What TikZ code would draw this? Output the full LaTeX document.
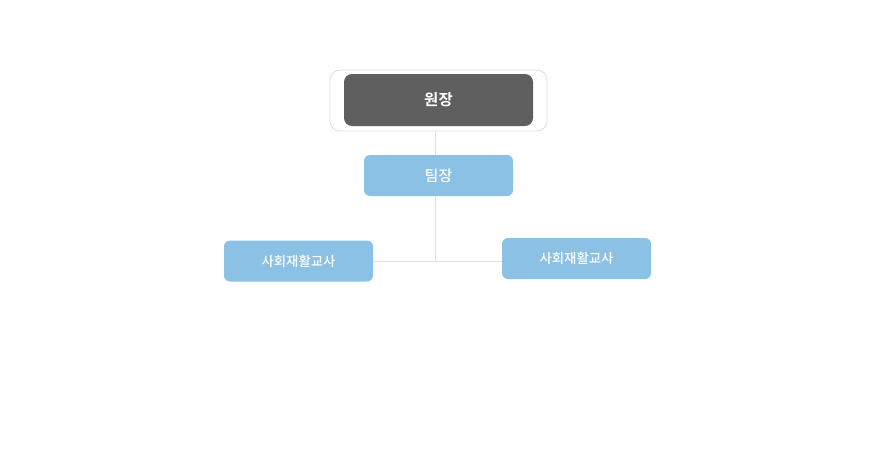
\documentclass[tikz,border=0pt]{standalone}
\usepackage{fontspec}
\setmainfont{Noto Sans CJK KR}[BoldFont={Noto Sans CJK KR Bold}]
\newfontfamily\krmedium{Noto Sans CJK KR Medium}
\definecolor{chief}{HTML}{5F5F5F}
\definecolor{staff}{HTML}{8AC1E5}
\definecolor{rule}{HTML}{E2E2E2}
\definecolor{rim}{HTML}{DEDEDE}

\begin{document}
\begin{tikzpicture}[
  x=1pt,y=-1pt,
  frame/.style={
    draw=rim,
    fill=white,
    line width=.8pt,
    rounded corners=10pt,
    minimum width=217pt,
    minimum height=61pt,
    inner sep=0pt
  },
  headbox/.style={
    fill=chief,
    rounded corners=8pt,
    minimum width=189pt,
    minimum height=52pt,
    inner sep=0pt,
    text=white,
    font=\fontsize{15.5}{17}\selectfont\bfseries
  },
  staffbox/.style={
    fill=staff,
    rounded corners=6pt,
    minimum width=149pt,
    minimum height=41pt,
    inner sep=0pt,
    text=white,
    font=\krmedium\fontsize{13.4}{15}\selectfont
  },
  link/.style={
    rule,
    line width=.9pt
  }
]

\path[use as bounding box] (0,0) rectangle (877,450);

\node[frame] (rimbox) at (438.5,100.5) {};
\node[headbox] (head) at (438.5,100) {원장};

\node[staffbox,font=\krmedium\fontsize{15}{17}\selectfont] (lead) at (438.5,175.5) {팀장};

\node[staffbox] (left) at (298.5,261) {사회재활교사};
\node[staffbox] (right) at (576.5,258.5) {사회재활교사};

\coordinate (hub) at (435,261);

\draw[link] (rimbox.south -| hub) -- (lead.north -| hub);
\draw[link] (lead.south -| hub) -- (hub);
\draw[link] (left.east) -- (left.east -| right.west);

\end{tikzpicture}
\end{document}
